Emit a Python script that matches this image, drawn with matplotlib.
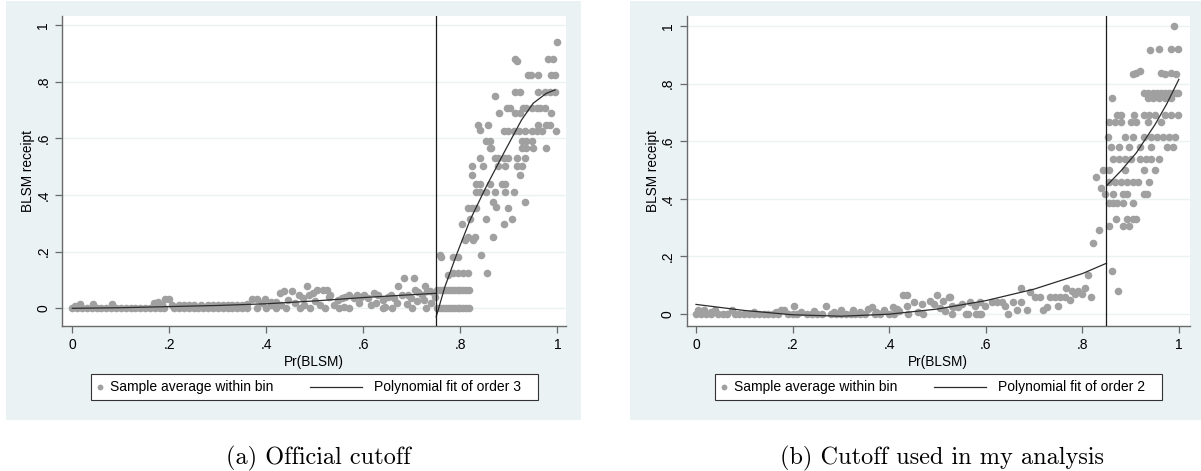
import numpy as np
import matplotlib.pyplot as plt
from matplotlib.patches import Rectangle
from matplotlib.lines import Line2D

# ---- data ----
xticks = [0, 0.2, 0.4, 0.6, 0.8, 1.0]
xtick_labels = ['0', '.2', '.4', '.6', '.8', '1']
yticks = [0, 0.2, 0.4, 0.6, 0.8, 1.0]
ytick_labels = ['0', '.2', '.4', '.6', '.8', '1']

cutoff_a = 0.75
cutoff_b = 0.85

# panel (a): bin averages below the official cutoff
a_below = [
    (0.00, 0), (0.01, 0), (0.02, 0), (0.03, 0), (0.04, 0), (0.05, 0), (0.06, 0), (0.07, 0),
    (0.08, 0), (0.09, 0), (0.10, 0), (0.11, 0), (0.12, 0), (0.13, 0), (0.14, 0), (0.15, 0),
    (0.16, 0), (0.17, 0), (0.18, 0), (0.19, 0), (0.21, 0), (0.22, 0), (0.23, 0), (0.24, 0),
    (0.25, 0), (0.26, 0), (0.27, 0), (0.28, 0), (0.29, 0), (0.30, 0), (0.31, 0), (0.32, 0),
    (0.33, 0), (0.34, 0), (0.35, 0), (0.36, 0), (0.38, 0), (0.40, 0), (0.42, 0), (0.44, 0),
    (0.47, 0), (0.49, 0), (0.52, 0), (0.55, 0), (0.57, 0), (0.64, 0), (0.66, 0), (0.70, 0),
    (0.73, 0),
    (0.005, 0.008), (0.015, 0.015), (0.042, 0.015), (0.081, 0.015), (0.168, 0.018),
    (0.176, 0.022), (0.185, 0.012), (0.192, 0.032), (0.20, 0.032), (0.205, 0.01),
    (0.22, 0.012), (0.23, 0.01), (0.24, 0.012), (0.25, 0.01), (0.265, 0.012), (0.28, 0.01),
    (0.29, 0.012), (0.30, 0.01), (0.31, 0.012), (0.32, 0.01), (0.33, 0.012), (0.34, 0.01),
    (0.35, 0.012), (0.36, 0.016),
    (0.37, 0.032), (0.381, 0.032), (0.39, 0.02), (0.397, 0.032), (0.409, 0.024), (0.41, 0.01),
    (0.42, 0.024), (0.43, 0.012), (0.429, 0.053), (0.437, 0.062), (0.445, 0.03), (0.452, 0.062),
    (0.46, 0.02), (0.468, 0.047), (0.476, 0.035), (0.478, 0.01), (0.484, 0.079), (0.488, 0.047),
    (0.496, 0.053), (0.50, 0.025), (0.504, 0.065), (0.51, 0.012), (0.516, 0.065), (0.524, 0.065),
    (0.53, 0.04),
    (0.532, 0.047), (0.54, 0.012), (0.547, 0.029), (0.555, 0.035), (0.56, 0.006), (0.563, 0.041),
    (0.571, 0.047), (0.58, 0.035), (0.587, 0.047), (0.59, 0.018), (0.595, 0.041), (0.602, 0.047),
    (0.61, 0.035), (0.615, 0.012), (0.622, 0.053), (0.625, 0.02), (0.63, 0.047), (0.641, 0.029),
    (0.645, 0.006), (0.65, 0.041), (0.657, 0.047), (0.664, 0.035), (0.67, 0.02), (0.672, 0.079),
    (0.68, 0.047), (0.684, 0.106), (0.69, 0.015), (0.692, 0.047), (0.698, 0.035), (0.704, 0.106),
    (0.706, 0.065), (0.71, 0.025), (0.712, 0.059), (0.72, 0.047), (0.725, 0.03), (0.728, 0.079),
    (0.731, 0.062), (0.737, 0.062), (0.74, 0.02), (0.745, 0.053), (0.748, 0.041),
]

# panel (a): bin averages above the official cutoff
a_above = [
    (0.752, 0), (0.758, 0), (0.764, 0), (0.770, 0), (0.776, 0), (0.782, 0),
    (0.788, 0), (0.794, 0), (0.800, 0), (0.806, 0), (0.812, 0), (0.818, 0),
    (0.752, 0.065), (0.758, 0.065), (0.764, 0.065), (0.770, 0.065), (0.776, 0.065), (0.782, 0.065),
    (0.788, 0.065), (0.794, 0.065), (0.800, 0.065), (0.806, 0.065), (0.812, 0.065), (0.818, 0.065),
    (0.775, 0.118), (0.785, 0.124), (0.796, 0.124), (0.806, 0.124), (0.816, 0.124),
    (0.757, 0.188), (0.761, 0.18), (0.785, 0.18), (0.795, 0.18),
    (0.803, 0.296), (0.81, 0.24), (0.816, 0.25), (0.826, 0.24), (0.83, 0.25),
    (0.816, 0.353), (0.823, 0.353), (0.833, 0.353), (0.82, 0.314), (0.823, 0.502), (0.823, 0.47),
    (0.833, 0.439), (0.84, 0.439), (0.833, 0.412), (0.84, 0.412), (0.853, 0.412),
    (0.837, 0.647), (0.84, 0.629), (0.84, 0.529), (0.843, 0.188), (0.847, 0.502), (0.852, 0.314),
    (0.855, 0.126), (0.857, 0.647), (0.853, 0.592), (0.86, 0.592), (0.86, 0.565), (0.864, 0.565),
    (0.86, 0.439), (0.867, 0.376), (0.874, 0.356), (0.868, 0.25), (0.871, 0.529), (0.878, 0.529),
    (0.871, 0.412), (0.872, 0.749), (0.878, 0.502), (0.879, 0.688), (0.885, 0.439), (0.892, 0.439),
    (0.889, 0.627), (0.899, 0.627), (0.889, 0.296), (0.889, 0.529), (0.899, 0.529), (0.892, 0.502),
    (0.892, 0.412), (0.896, 0.706), (0.903, 0.706), (0.899, 0.353), (0.906, 0.314),
    (0.910, 0.627), (0.920, 0.627), (0.910, 0.412), (0.913, 0.879), (0.916, 0.874),
    (0.913, 0.765), (0.923, 0.765), (0.913, 0.688), (0.923, 0.688), (0.916, 0.529), (0.933, 0.529),
    (0.916, 0.502), (0.926, 0.502), (0.923, 0.47), (0.926, 0.592), (0.936, 0.592), (0.947, 0.592),
    (0.926, 0.565), (0.936, 0.565), (0.95, 0.565), (0.93, 0.706), (0.936, 0.706), (0.947, 0.706),
    (0.957, 0.706), (0.964, 0.706), (0.974, 0.706), (0.933, 0.627), (0.947, 0.627), (0.957, 0.627),
    (0.968, 0.627), (0.933, 0.376), (0.94, 0.823), (0.946, 0.823), (0.96, 0.823), (0.987, 0.823),
    (0.994, 0.823), (0.96, 0.765), (0.974, 0.765), (0.984, 0.765), (0.994, 0.765), (0.96, 0.647),
    (0.977, 0.647), (0.984, 0.647), (0.977, 0.565), (0.98, 0.879), (0.99, 0.879), (0.987, 0.688),
    (0.997, 0.627), (0.999, 0.941),
]

# panel (a): polynomial fit of order 3, read at a few points on each side
a_fit_below_x = [0.0, 0.1, 0.2, 0.3, 0.4, 0.5, 0.6, 0.7, 0.75]
a_fit_below_y = [0.0, 0.002, 0.006, 0.010, 0.016, 0.026, 0.038, 0.048, 0.053]
a_fit_above_x = [0.75, 0.768, 0.793, 0.82, 0.853, 0.889, 0.926, 0.95, 0.977, 0.995]
a_fit_above_y = [-0.03, 0.076, 0.194, 0.312, 0.429, 0.547, 0.665, 0.724, 0.759, 0.771]

# panel (b): bin averages below the cutoff used in the analysis
b_below = [
    (0.00, 0), (0.01, 0), (0.02, 0), (0.03, 0), (0.045, 0), (0.055, 0), (0.065, 0), (0.08, 0),
    (0.09, 0), (0.10, 0), (0.11, 0), (0.12, 0), (0.13, 0), (0.14, 0), (0.15, 0), (0.16, 0),
    (0.17, 0), (0.19, 0), (0.20, 0), (0.21, 0), (0.23, 0), (0.24, 0), (0.25, 0), (0.26, 0),
    (0.28, 0), (0.29, 0), (0.30, 0), (0.31, 0), (0.32, 0), (0.33, 0), (0.34, 0), (0.35, 0),
    (0.37, 0), (0.38, 0), (0.40, 0), (0.41, 0), (0.44, 0), (0.47, 0), (0.53, 0), (0.56, 0),
    (0.58, 0), (0.59, 0),
    (0.005, 0.012), (0.016, 0.014), (0.03, 0.008), (0.04, 0.012), (0.075, 0.014), (0.12, 0.006),
    (0.166, 0.006), (0.175, 0.012), (0.182, 0.014), (0.202, 0.029), (0.218, 0.006), (0.245, 0.009),
    (0.269, 0.029), (0.285, 0.006), (0.30, 0.012), (0.325, 0.014), (0.34, 0.008), (0.357, 0.017),
    (0.365, 0.023), (0.373, 0.006), (0.389, 0.012), (0.408, 0.025), (0.416, 0.017), (0.42, 0.01),
    (0.428, 0.064), (0.436, 0.064), (0.436, 0.029), (0.452, 0.04), (0.46, 0.006), (0.468, 0.035),
    (0.484, 0.046), (0.492, 0.035), (0.50, 0.064), (0.505, 0.02), (0.511, 0.044), (0.515, 0.01),
    (0.523, 0.06), (0.531, 0.029), (0.543, 0.023), (0.55, 0.035),
    (0.526, 0.06), (0.533, 0.025), (0.564, 0), (0.567, 0.04), (0.578, 0.029), (0.585, 0),
    (0.588, 0.04), (0.599, 0.029), (0.613, 0.04), (0.623, 0.04), (0.633, 0.04), (0.64, 0.029),
    (0.647, 0), (0.657, 0.04), (0.664, 0.013), (0.672, 0.09), (0.674, 0.04), (0.685, 0.013),
    (0.691, 0.075), (0.701, 0.06), (0.712, 0.06), (0.719, 0.013), (0.726, 0.025), (0.733, 0.06),
    (0.743, 0.06), (0.75, 0.029), (0.754, 0.06), (0.764, 0.06), (0.767, 0.09), (0.775, 0.049),
    (0.778, 0.079), (0.785, 0.068), (0.792, 0.079), (0.799, 0.068), (0.805, 0.09), (0.812, 0.136),
    (0.819, 0.06), (0.823, 0.247), (0.829, 0.476), (0.834, 0.293), (0.839, 0.436), (0.843, 0.5),
    (0.848, 0.418),
]

# panel (b): bin averages above the cutoff
b_above = [
    (0.855, 0.5), (0.854, 0.613), (0.856, 0.665), (0.856, 0.46), (0.856, 0.384), (0.856, 0.305),
    (0.860, 0.581), (0.861, 0.15), (0.862, 0.749), (0.864, 0.538), (0.864, 0.415), (0.864, 0.384),
    (0.868, 0.665), (0.868, 0.46), (0.870, 0.329), (0.872, 0.691), (0.872, 0.384), (0.874, 0.08),
    (0.876, 0.581), (0.876, 0.538), (0.880, 0.691), (0.880, 0.665), (0.880, 0.46), (0.884, 0.415),
    (0.884, 0.384), (0.884, 0.305), (0.888, 0.613), (0.888, 0.538), (0.888, 0.5), (0.892, 0.46),
    (0.892, 0.415), (0.892, 0.329), (0.896, 0.581), (0.896, 0.305), (0.900, 0.665), (0.900, 0.538),
    (0.904, 0.832), (0.904, 0.613), (0.904, 0.46), (0.904, 0.384), (0.904, 0.329), (0.908, 0.691),
    (0.912, 0.838), (0.912, 0.665), (0.912, 0.329), (0.916, 0.46), (0.920, 0.844), (0.920, 0.581),
    (0.920, 0.538), (0.927, 0.769), (0.928, 0.691), (0.928, 0.613), (0.928, 0.5), (0.928, 0.415),
    (0.931, 0.538), (0.933, 0.415), (0.935, 0.749), (0.936, 0.665), (0.937, 0.769), (0.939, 0.691),
    (0.939, 0.46), (0.940, 0.916), (0.943, 0.613), (0.943, 0.581), (0.943, 0.538), (0.947, 0.769),
    (0.947, 0.749), (0.951, 0.691), (0.951, 0.5), (0.955, 0.769), (0.955, 0.613), (0.959, 0.921),
    (0.959, 0.749), (0.959, 0.538), (0.963, 0.838), (0.963, 0.769), (0.963, 0.665), (0.967, 0.613),
    (0.971, 0.832), (0.971, 0.769), (0.971, 0.749), (0.971, 0.691), (0.975, 0.581), (0.979, 0.769),
    (0.979, 0.613), (0.983, 0.921), (0.983, 0.838), (0.983, 0.749), (0.983, 0.691), (0.987, 0.769),
    (0.987, 0.581), (0.989, 1.0), (0.991, 0.613), (0.995, 0.832), (0.995, 0.769), (0.998, 0.921),
    (0.999, 0.691), (0.998, 0.769),
]

# panel (b): polynomial fit of order 2
b_fit_below_x = [0.0, 0.1, 0.2, 0.3, 0.4, 0.5, 0.6, 0.7, 0.8, 0.85]
b_fit_below_y = [0.033, 0.012, -0.003, -0.008, -0.001, 0.017, 0.046, 0.086, 0.140, 0.176]
b_fit_above_x = [0.85, 0.88, 0.912, 0.951, 0.975, 1.0]
b_fit_above_y = [0.445, 0.497, 0.56, 0.659, 0.73, 0.815]

# ---- figure ----
W, H = 1201, 471
BG = '#eaf2f3'
DOT = '#a0a0a0'
FIT = '#2b2b2b'
AXC = '#6a6a6a'

plt.rcParams['font.family'] = ['Liberation Sans', 'DejaVu Sans']
fig = plt.figure(figsize=(W / 100, H / 100), dpi=100, facecolor='white')


def fx(px):
    return px / W


def fy(py):
    return 1 - py / H


def add_rect(x0, y0, x1, y1, **kw):
    fig.add_artist(Rectangle((fx(x0), fy(y1)), (x1 - x0) / W, (y1 - y0) / H,
                             transform=fig.transFigure, **kw))


def draw_panel(bg, box, xlim, ylim, below, above, fit_b, fit_a, cutoff, leg_left, fit_label,
               caption, cap_x):
    add_rect(bg[0], bg[1], bg[2], bg[3], facecolor=BG, edgecolor='none', zorder=0)
    l, t, r, b = box
    ax = fig.add_axes([fx(l), fy(b), (r - l) / W, (b - t) / H])
    ax.set_facecolor('white')
    ax.set_xlim(*xlim)
    ax.set_ylim(*ylim)
    ax.set_axisbelow(True)
    ax.grid(axis='y', color=BG, lw=1.0)

    pts = np.array(below + above)
    ax.scatter(pts[:, 0], pts[:, 1], s=30, color=DOT, linewidths=0, zorder=2)
    ax.plot(fit_b[0], fit_b[1], color=FIT, lw=0.9, zorder=3)
    ax.plot(fit_a[0], fit_a[1], color=FIT, lw=0.9, zorder=3)
    ax.axvline(cutoff, color='#1a1a1a', lw=0.9, zorder=3)

    for s in ['top', 'right']:
        ax.spines[s].set_visible(False)
    for s in ['left', 'bottom']:
        ax.spines[s].set_color(AXC)
        ax.spines[s].set_linewidth(1.0)
    ax.set_xticks(xticks)
    ax.set_xticklabels(xtick_labels)
    ax.set_yticks(yticks)
    ax.set_yticklabels(ytick_labels, rotation=90, va='center')
    ax.tick_params(length=5, width=0.9, color=AXC, labelsize=10, pad=3.5)
    ax.set_xlabel('Pr(BLSM)', fontsize=9.8)
    ax.set_ylabel('BLSM receipt', fontsize=9.8)
    ax.xaxis.set_label_coords(0.5, -0.093)
    ax.yaxis.set_label_coords(-0.054, 0.5)

    # legend box drawn like the Stata one
    ly = 387
    add_rect(leg_left, 374, leg_left + 447, 400, facecolor='white', edgecolor='#333333',
             lw=0.8, zorder=1)
    fig.add_artist(Line2D([fx(leg_left + 8.5)], [fy(ly)], marker='o', ms=4.2, color=DOT,
                          mec='none', transform=fig.transFigure))
    fig.text(fx(leg_left + 19), fy(ly), 'Sample average within bin', fontsize=10,
             va='center', ha='left')
    fig.add_artist(Line2D([fx(leg_left + 219), fx(leg_left + 271)], [fy(ly), fy(ly)],
                          color=FIT, lw=0.9, transform=fig.transFigure))
    fig.text(fx(leg_left + 283), fy(ly), fit_label, fontsize=10, va='center', ha='left')

    fig.text(fx(cap_x), fy(458), caption, fontsize=17.5, family='cmr10',
             ha='center', va='center')
    return ax


draw_panel((6, 1, 581, 420), (62.3, 16, 565.7, 326), (-0.0206, 1.017), (-0.0625, 1.032),
           a_below, a_above, (a_fit_below_x, a_fit_below_y), (a_fit_above_x, a_fit_above_y),
           cutoff_a, 91, 'Polynomial fit of order 3', '(a) Official cutoff', 318)
draw_panel((630, 1, 1205, 420), (686.7, 16, 1190, 326), (-0.0193, 1.023), (-0.042, 1.035),
           b_below, b_above, (b_fit_below_x, b_fit_below_y), (b_fit_above_x, b_fit_above_y),
           cutoff_b, 715, 'Polynomial fit of order 2', '(b) Cutoff used in my analysis', 942)

fig.savefig('out.png', dpi=100)
